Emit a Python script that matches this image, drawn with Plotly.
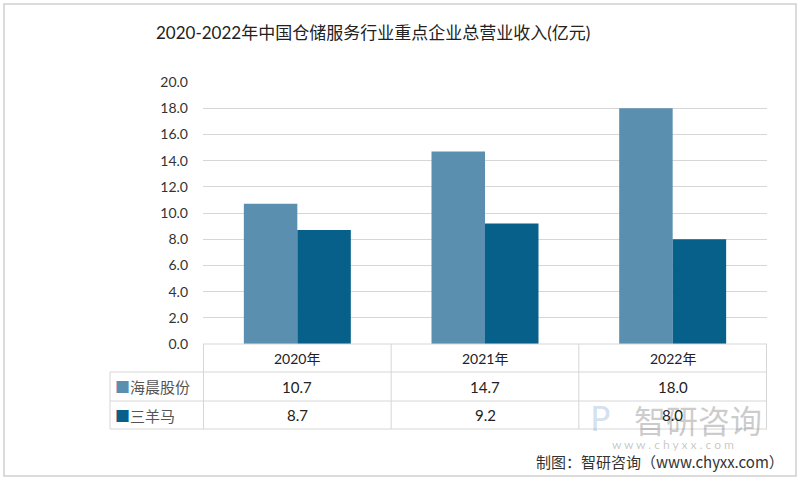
import plotly.graph_objects as go

categories = ["2020年", "2021年", "2022年"]
series_names = ["海晨股份", "三羊马"]
haichen = [10.7, 14.7, 18.0]
sanyangma = [8.7, 9.2, 8.0]
series_values = [haichen, sanyangma]
colors = ["#5B8FB0", "#06608A"]
y_ticks = [0, 2, 4, 6, 8, 10, 12, 14, 16, 18, 20]

FONT = "Lato, 'Noto Sans CJK SC', sans-serif"
CJK = "'Noto Sans CJK SC', sans-serif"

W, H = 800, 481
L, R, T, B = 203, 33, 82, 137
pw, ph = W - L - R, H - T - B

def px(x):
    return (x - L) / pw

def py(y):
    return (H - B - y) / ph

fig = go.Figure()
for name, vals, c in zip(series_names, series_values, colors):
    fig.add_trace(go.Bar(x=categories, y=vals, name=name, marker=dict(color=c, line=dict(width=0))))

shapes = []
annotations = []
grid = "#d6d6d6"

def ann(**kw):
    kw.setdefault("showarrow", False)
    kw.setdefault("xanchor", "center")
    kw.setdefault("yanchor", "middle")
    annotations.append(kw)

# table horizontal lines
shapes.append(dict(type="line", xref="paper", yref="paper", x0=0, x1=1, y0=0, y1=0, line=dict(color=grid, width=1)))
for ypx in [372, 401, 429]:
    shapes.append(dict(type="line", xref="paper", yref="paper", x0=px(110), x1=1, y0=py(ypx), y1=py(ypx), line=dict(color=grid, width=1)))
# vertical lines at category boundaries
n = len(categories)
for i in range(n + 1):
    shapes.append(dict(type="line", xref="x", yref="paper", x0=i - 0.5, x1=i - 0.5, y0=0, y1=py(429), line=dict(color=grid, width=1)))
shapes.append(dict(type="line", xref="paper", yref="paper", x0=px(110), x1=px(110), y0=py(372), y1=py(429), line=dict(color=grid, width=1)))
# outer frame
shapes.append(dict(type="rect", xref="paper", yref="paper", x0=px(4), x1=px(796), y0=py(476), y1=py(4), line=dict(color="#cfcfcf", width=1.5), layer="below"))

# watermark (drawn first, faint)
ann(x=px(698), y=py(419), xref="paper", yref="paper", text="智研咨询",
    font=dict(family=CJK, size=32, color="rgba(120,120,120,0.38)"))
ann(x=px(600), y=py(419), xref="paper", yref="paper", text="P",
    font=dict(family="DejaVu Sans", size=34, color="rgba(120,160,210,0.32)"))
ann(x=px(673), y=py(444), xref="paper", yref="paper", text="w w w . c h y x x . c o m",
    font=dict(family=FONT, size=12, color="rgba(120,120,120,0.42)"))

# header row
for c in categories:
    ann(x=c, y=py(358), xref="x", yref="paper", text=c, font=dict(family=FONT, size=14, color="#222"))
row_y = [py(386.5), py(415)]
for r, (name, vals, col) in enumerate(zip(series_names, series_values, colors)):
    ann(x=px(113), y=row_y[r], xref="paper", yref="paper", xanchor="left",
        text=f"<span style='color:{col}'>■</span><span style='color:#555'>{name}</span>",
        font=dict(family=CJK, size=15, color="#555"))
    for c, v in zip(categories, vals):
        ann(x=c, y=row_y[r], xref="x", yref="paper", text=f"{v:.1f}", font=dict(family=FONT, size=15, color="#222"))

# title
ann(x=px(373), y=py(32), xref="paper", yref="paper",
    text="2020-2022年中国仓储服务行业重点企业总营业收入(亿元)", font=dict(family=FONT, size=17, color="#222"))
# source
ann(x=px(786), y=py(461), xref="paper", yref="paper", xanchor="right",
    text="制图：智研咨询（www.chyxx.com）", font=dict(family=CJK, size=15, color="#333"))

fig.update_layout(
    width=W, height=H,
    margin=dict(l=L, r=R, t=T, b=B),
    paper_bgcolor="white", plot_bgcolor="white",
    barmode="group", bargap=0.43, bargroupgap=0,
    showlegend=False,
    shapes=shapes, annotations=annotations,
    font=dict(family=FONT, color="#333"),
)
fig.update_xaxes(showticklabels=False, showgrid=False, showline=False, zeroline=False, ticks="")
fig.update_yaxes(range=[0, 20], tickvals=y_ticks, tickformat=".1f", showgrid=True, gridcolor=grid,
                 zeroline=False, showline=False, ticks="", ticklen=0, ticklabelstandoff=14,
                 tickfont=dict(family=FONT, size=14, color="#333"))

fig.write_html("out.html", config={"displayModeBar": False},
               post_script="document.body.style.margin='0';")
